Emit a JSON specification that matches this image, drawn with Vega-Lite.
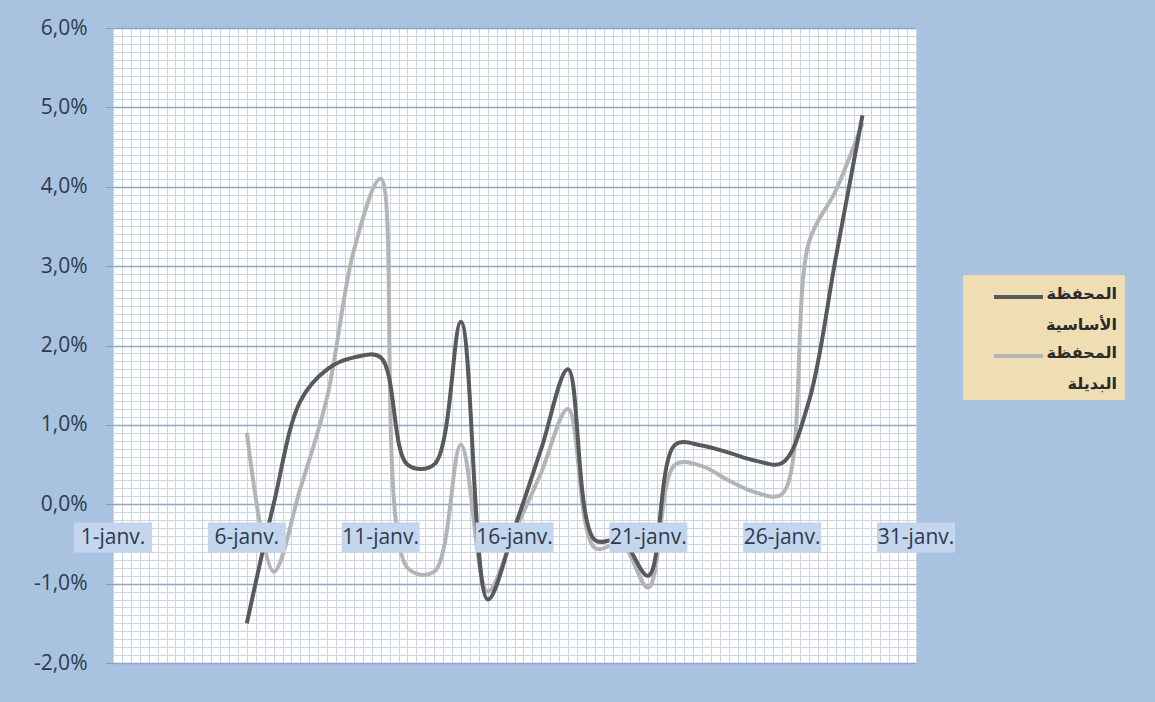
{
  "$schema": "https://vega.github.io/schema/vega-lite/v6.json",
  "width": 803,
  "height": 635,
  "autosize": {"type": "none"},
  "padding": {"left": 113, "top": 28, "right": 239, "bottom": 39},
  "background": "#A9C2E0",
  "view": {"fill": "white", "stroke": null},
  "datasets": {
    "series": [
      {"date": "2011-01-06", "series": "المحفظة البديلة", "value": 0.009},
      {"date": "2011-01-07", "series": "المحفظة البديلة", "value": -0.0085},
      {"date": "2011-01-08", "series": "المحفظة البديلة", "value": 0.002},
      {"date": "2011-01-09", "series": "المحفظة البديلة", "value": 0.0135},
      {"date": "2011-01-10", "series": "المحفظة البديلة", "value": 0.032},
      {"date": "2011-01-11", "series": "المحفظة البديلة", "value": 0.041},
      {"date": "2011-01-12", "series": "المحفظة البديلة", "value": -0.008},
      {"date": "2011-01-13", "series": "المحفظة البديلة", "value": -0.0085},
      {"date": "2011-01-14", "series": "المحفظة البديلة", "value": 0.0075},
      {"date": "2011-01-15", "series": "المحفظة البديلة", "value": -0.011},
      {"date": "2011-01-16", "series": "المحفظة البديلة", "value": -0.0035},
      {"date": "2011-01-17", "series": "المحفظة البديلة", "value": 0.004},
      {"date": "2011-01-18", "series": "المحفظة البديلة", "value": 0.012},
      {"date": "2011-01-19", "series": "المحفظة البديلة", "value": -0.0055},
      {"date": "2011-01-20", "series": "المحفظة البديلة", "value": -0.005},
      {"date": "2011-01-21", "series": "المحفظة البديلة", "value": -0.0105},
      {"date": "2011-01-22", "series": "المحفظة البديلة", "value": 0.005},
      {"date": "2011-01-23", "series": "المحفظة البديلة", "value": 0.0048},
      {"date": "2011-01-24", "series": "المحفظة البديلة", "value": 0.003},
      {"date": "2011-01-25", "series": "المحفظة البديلة", "value": 0.0015},
      {"date": "2011-01-26", "series": "المحفظة البديلة", "value": 0.0013},
      {"date": "2011-01-27", "series": "المحفظة البديلة", "value": 0.033},
      {"date": "2011-01-28", "series": "المحفظة البديلة", "value": 0.0395},
      {"date": "2011-01-29", "series": "المحفظة البديلة", "value": 0.048},
      {"date": "2011-01-06", "series": "المحفظة الأساسية", "value": -0.015},
      {"date": "2011-01-07", "series": "المحفظة الأساسية", "value": 0.0},
      {"date": "2011-01-08", "series": "المحفظة الأساسية", "value": 0.013},
      {"date": "2011-01-09", "series": "المحفظة الأساسية", "value": 0.017},
      {"date": "2011-01-10", "series": "المحفظة الأساسية", "value": 0.0185},
      {"date": "2011-01-11", "series": "المحفظة الأساسية", "value": 0.0185},
      {"date": "2011-01-12", "series": "المحفظة الأساسية", "value": 0.005},
      {"date": "2011-01-13", "series": "المحفظة الأساسية", "value": 0.005},
      {"date": "2011-01-14", "series": "المحفظة الأساسية", "value": 0.023},
      {"date": "2011-01-15", "series": "المحفظة الأساسية", "value": -0.012},
      {"date": "2011-01-16", "series": "المحفظة الأساسية", "value": -0.003},
      {"date": "2011-01-17", "series": "المحفظة الأساسية", "value": 0.007},
      {"date": "2011-01-18", "series": "المحفظة الأساسية", "value": 0.017},
      {"date": "2011-01-19", "series": "المحفظة الأساسية", "value": -0.0045},
      {"date": "2011-01-20", "series": "المحفظة الأساسية", "value": -0.0045},
      {"date": "2011-01-21", "series": "المحفظة الأساسية", "value": -0.009},
      {"date": "2011-01-22", "series": "المحفظة الأساسية", "value": 0.0075},
      {"date": "2011-01-23", "series": "المحفظة الأساسية", "value": 0.0074},
      {"date": "2011-01-24", "series": "المحفظة الأساسية", "value": 0.0065},
      {"date": "2011-01-25", "series": "المحفظة الأساسية", "value": 0.0055},
      {"date": "2011-01-26", "series": "المحفظة الأساسية", "value": 0.0052},
      {"date": "2011-01-27", "series": "المحفظة الأساسية", "value": 0.013},
      {"date": "2011-01-28", "series": "المحفظة الأساسية", "value": 0.031},
      {"date": "2011-01-29", "series": "المحفظة الأساسية", "value": 0.049}
    ],
    "ticks": [
      {"date": "2011-01-01", "label": "1-janv."},
      {"date": "2011-01-06", "label": "6-janv."},
      {"date": "2011-01-11", "label": "11-janv."},
      {"date": "2011-01-16", "label": "16-janv."},
      {"date": "2011-01-21", "label": "21-janv."},
      {"date": "2011-01-26", "label": "26-janv."},
      {"date": "2011-01-31", "label": "31-janv."}
    ]
  },
  "resolve": {"axis": {"y": "independent"}},
  "layer": [
    {
      "data": {"name": "series"},
      "mark": {"type": "line", "interpolate": "catmull-rom", "strokeWidth": 4},
      "encoding": {
        "x": {
          "field": "date",
          "type": "temporal",
          "scale": {
            "type": "utc",
            "domain": [
              {"year": 2011, "month": 1, "date": 1, "utc": true},
              {"year": 2011, "month": 1, "date": 31, "utc": true}
            ]
          },
          "axis": {
            "title": null,
            "labels": false,
            "ticks": false,
            "domain": false,
            "grid": true,
            "gridColor": "#C9D5E6",
            "gridWidth": 1,
            "tickCount": 200,
            "values": [1293840000000,1293868800000,1293897600000,1293926400000,1293955200000,1293984000000,1294012800000,1294041600000,1294070400000,1294099200000,1294128000000,1294156800000,1294185600000,1294214400000,1294243200000,1294272000000,1294300800000,1294329600000,1294358400000,1294387200000,1294416000000,1294444800000,1294473600000,1294502400000,1294531200000,1294560000000,1294588800000,1294617600000,1294646400000,1294675200000,1294704000000,1294732800000,1294761600000,1294790400000,1294819200000,1294848000000,1294876800000,1294905600000,1294934400000,1294963200000,1294992000000,1295020800000,1295049600000,1295078400000,1295107200000,1295136000000,1295164800000,1295193600000,1295222400000,1295251200000,1295280000000,1295308800000,1295337600000,1295366400000,1295395200000,1295424000000,1295452800000,1295481600000,1295510400000,1295539200000,1295568000000,1295596800000,1295625600000,1295654400000,1295683200000,1295712000000,1295740800000,1295769600000,1295798400000,1295827200000,1295856000000,1295884800000,1295913600000,1295942400000,1295971200000,1296000000000,1296028800000,1296057600000,1296086400000,1296115200000,1296144000000,1296172800000,1296201600000,1296230400000,1296259200000,1296288000000,1296316800000,1296345600000,1296374400000,1296403200000,1296432000000]
          }
        },
        "y": {
          "field": "value",
          "type": "quantitative",
          "scale": {"domain": [-0.02, 0.06], "nice": false, "zero": false},
          "axis": {
            "orient": "left",
            "title": null,
            "tickCount": 8,
            "domain": false,
            "labelOverlap": false,
            "labelExpr": "replace(replace(format(datum.value,'.1%'),'.',','),'−','-')",
            "labelFont": "Open Sans",
            "labelFontSize": 21,
            "labelColor": "#2E3A4D",
            "labelPadding": 18,
            "tickSize": 8,
            "tickColor": "#8A9AB2",
            "gridColor": "#8FA6C6",
            "gridWidth": 1.6
          }
        },
        "color": {
          "field": "series",
          "type": "nominal",
          "scale": {"domain": ["المحفظة الأساسية", "المحفظة البديلة"], "range": ["#595959", "#B4B4B4"]},
          "legend": {
            "title": null,
            "orient": "none",
            "legendX": 850,
            "legendY": 247,
            "fillColor": "#EFDDB3",
            "padding": 8,
            "symbolType": "stroke",
            "symbolSize": 2401,
            "symbolStrokeWidth": 4,
            "symbolOffset": 21,
            "labelFont": "DejaVu Sans",
            "labelFontSize": 16,
            "labelFontWeight": "bold",
            "labelColor": "#2A2A2A",
            "labelExpr": "split(datum.label, ' ')",
            "labelAlign": "right",
            "labelOffset": 72,
            "labelLimit": 200,
            "rowPadding": 9,
            "encode": {
              "labels": {"update": {"lineHeight": {"value": 31}, "y": {"value": 11}}},
              "symbols": {"update": {"y": {"value": 14}}}
            }
          }
        }
      }
    },
    {
      "data": {"name": "ticks"},
      "mark": {"type": "point", "shape": "M-2.6,-1H2.6V1H-2.6Z", "size": 900, "filled": true, "opacity": 1, "strokeWidth": 0, "color": "#C4D5EE"},
      "encoding": {
        "x": {"field": "date", "type": "temporal"},
        "y": {
          "datum": -0.0042,
          "type": "quantitative",
          "axis": {
            "orient": "right",
            "title": null,
            "labels": false,
            "ticks": false,
            "domain": false,
            "grid": true,
            "gridColor": "#C9D5E6",
            "gridWidth": 1,
            "tickCount": 200,
            "values": [-0.019,-0.018,-0.017,-0.016,-0.015,-0.014,-0.013,-0.012,-0.011,-0.009,-0.008,-0.007,-0.006,-0.005,-0.004,-0.003,-0.002,-0.001,0.001,0.002,0.003,0.004,0.005,0.006,0.007,0.008,0.009,0.011,0.012,0.013,0.014,0.015,0.016,0.017,0.018,0.019,0.021,0.022,0.023,0.024,0.025,0.026,0.027,0.028,0.029,0.031,0.032,0.033,0.034,0.035,0.036,0.037,0.038,0.039,0.041,0.042,0.043,0.044,0.045,0.046,0.047,0.048,0.049,0.051,0.052,0.053,0.054,0.055,0.056,0.057,0.058,0.059]
          }
        }
      }
    },
    {
      "data": {"name": "ticks"},
      "mark": {"type": "text", "font": "Open Sans", "fontSize": 21, "color": "#2E3A4D", "baseline": "middle", "align": "center"},
      "encoding": {
        "x": {"field": "date", "type": "temporal"},
        "y": {"datum": -0.0042, "type": "quantitative", "axis": null},
        "text": {"field": "label"}
      }
    }
  ]
}
